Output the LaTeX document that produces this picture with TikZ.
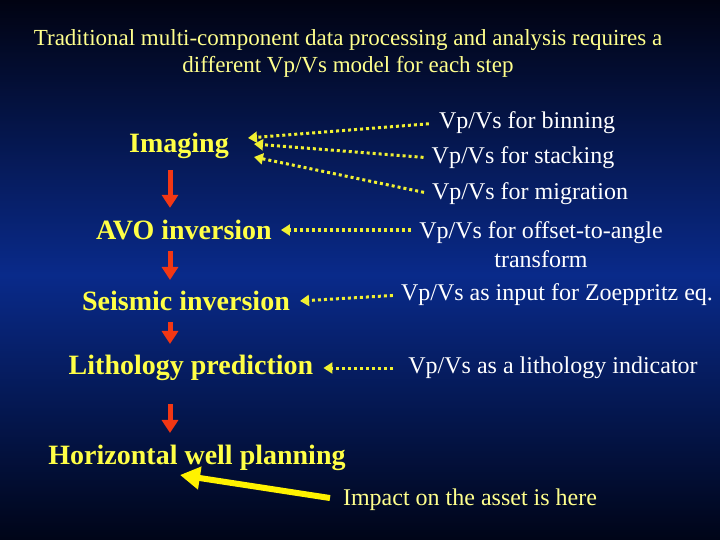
\documentclass[tikz,border=0pt]{standalone}
\usepackage{fontspec}
\setmainfont{Liberation Serif}
\usetikzlibrary{positioning}
\usetikzlibrary{arrows.meta}

\definecolor{slidetop}{RGB}{1,3,18}
\definecolor{slidemid}{RGB}{9,42,138}
\definecolor{slidebot}{RGB}{0,5,24}
\definecolor{steptext}{RGB}{255,255,70}
\definecolor{titletext}{RGB}{255,255,140}
\definecolor{dotline}{RGB}{240,240,50}
\definecolor{downred}{RGB}{242,55,20}

\tikzset{
  steplabel/.style={font=\fontsize{28}{30}\selectfont\bfseries, text=steptext, inner sep=0pt},
  modellabel/.style={font=\fontsize{24}{29}\selectfont, text=white, inner sep=0pt, align=center},
  titlelabel/.style={font=\fontsize{23}{27}\selectfont, text=titletext, inner sep=0pt, align=center},
  dotarrow/.style={dotline, line width=3pt, dash pattern=on 3pt off 3pt, -{Triangle[length=9pt,width=11pt]}},
  downarrow/.style={downred, line width=5pt, -{Triangle[length=13pt,width=16pt]}},
  bigarrow/.style={yellow, line width=6pt, -{Triangle[length=20pt,width=22pt]}},
}

\begin{document}
\begin{tikzpicture}[x=1pt,y=-1pt]

\useasboundingbox (0,0) rectangle (720,540);

% background
{
\shade[top color=slidetop, bottom color=slidemid] (0,0) rectangle (720,275);
\shade[top color=slidemid, bottom color=slidebot] (0,275) rectangle (720,540);
}

% title
\node[titlelabel] (title) at (348,53) {Traditional multi-component data processing and analysis requires a\\different Vp/Vs model for each step};

% steps
{
\node[steplabel] (img) at (179,146) {Imaging};
\node[steplabel] (avo) at (184,230) {AVO inversion};
\node[steplabel] (seis) at (186,301) {Seismic inversion};
\node[steplabel] (lith) at (191,368) {Lithology prediction};
\node[steplabel] (horiz) at (197,458) {Horizontal well planning};
\coordinate (spine) at (170,0);
\coordinate (target) at (180,475);
}

% Vp/Vs models
{
\node[modellabel] (bin) at (527,123) {Vp/Vs for binning};
\node[modellabel] (stack) at (523,158) {Vp/Vs for stacking};
\node[modellabel] (migr) at (530,194) {Vp/Vs for migration};
\node[modellabel] (angle) at (541,245) {Vp/Vs for offset-to-angle\\transform};
\node[modellabel] (zoep) at (557,295) {Vp/Vs as input for Zoeppritz eq.};
\node[modellabel] (litho) at (553,368) {Vp/Vs as a lithology indicator};
\node[modellabel, text=titletext] (impact) at (470,500) {Impact on the asset is here};
}

% red arrows
{
\draw[downarrow, shorten <=11pt, shorten >=12pt] (img.south -| spine) -- (avo.north -| spine);
\draw[downarrow, shorten <=11pt, shorten >=11pt] (avo.south -| spine) -- (seis.north -| spine);
\draw[downarrow, shorten <=11pt, shorten >=11pt] (seis.south -| spine) -- (lith.north -| spine);
\draw[downarrow, shorten <=23pt, shorten >=12pt] (lith.south -| spine) -- (horiz.north -| spine);
}

% dotted arrows
{
\draw[dotarrow, shorten <=10pt] (bin.west) -- ([xshift=19pt,yshift=8pt]img.east);
\draw[dotarrow, shorten <=8pt] (stack.west) -- ([xshift=25pt,yshift=2pt]img.east);
\draw[dotarrow, shorten <=8pt] (migr.west) -- ([xshift=25pt,yshift=-11pt]img.east);
\draw[dotarrow, shorten <=8pt] (angle.west |- avo.east) -- ([xshift=9pt]avo.east);
\draw[dotarrow, shorten <=8pt] (zoep.west) -- ([xshift=10pt]seis.east);
\draw[dotarrow, shorten <=15pt] (litho.west) -- ([xshift=10pt]lith.east);
}

\draw[bigarrow, shorten <=13pt] (impact.west) -- (target);

\end{tikzpicture}
\end{document}
